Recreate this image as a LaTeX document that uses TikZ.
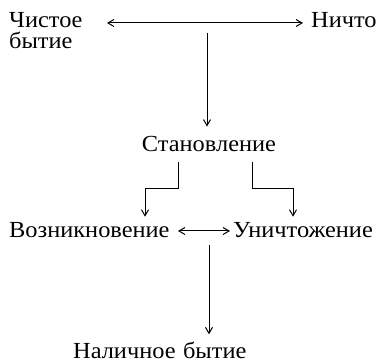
\documentclass[tikz,border=0pt]{standalone}
\usepackage{graphicx}
\usepackage{fontspec}
\setmainfont{Liberation Serif}
\usetikzlibrary{arrows.meta}
% slightly widened lettering
\newcommand{\widetext}[1]{\scalebox{1.06}[1]{#1}}
\tikzset{
  lbl/.style={inner sep=0pt, font=\fontsize{23}{21}\selectfont},
  tip/.style={Straight Barb[length=6pt,width=7pt]},
  link/.style={line width=1pt, -{Straight Barb[length=6pt,width=7pt]}},
  dlink/.style={line width=1pt, {Straight Barb[length=6pt,width=7pt]}-{Straight Barb[length=6pt,width=7pt]}},
}
\begin{document}
\begin{tikzpicture}[x=1pt,y=-1pt]
\useasboundingbox (0,0) rectangle (378,363);
% terms
\node[lbl, anchor=base west] (pure) at (9,28) {\widetext{Чистое}};
\node[lbl, anchor=base west] (pure2) at (9,49) {\widetext{бытие}};
\node[lbl, anchor=base west] (nothing) at (311,28) {\widetext{Ничто}};
\node[lbl, anchor=base] (becoming) at (209,152) {\widetext{Становление}};
\node[lbl, anchor=base west] (arising) at (9,238) {\widetext{Возникновение}};
\node[lbl, anchor=base west] (passing) at (233,238) {\widetext{Уничтожение}};
\node[lbl, anchor=base west] (dasein) at (73,359) {\widetext{Наличное\hspace{7pt}бытие}};
% helper points
\coordinate (tl) at (107,23);
\coordinate (tr) at (303,23);
\coordinate (tm) at (207,33);
\coordinate (bl1) at (178,162);
\coordinate (bl2) at (178,189);
\coordinate (bl3) at (145,189);
\coordinate (br1) at (252,162);
\coordinate (br2) at (252,189);
\coordinate (br3) at (293,189);
\coordinate (ml) at (178,231);
\coordinate (mr) at (230,231);
\coordinate (bt) at (209,245);
% connectors
\draw[dlink] (tl) -- (tr);
\draw[link, shorten >=10pt] (tm) -- (becoming.north -| tm);
\draw[link, shorten >=6pt] (bl1) -- (bl2) -- (bl3) -- (bl3 |- arising.north);
\draw[link, shorten >=6pt] (br1) -- (br2) -- (br3) -- (br3 |- passing.north);
\draw[dlink] (ml) -- (mr);
\draw[link, shorten >=8pt] (bt) -- (dasein.north -| bt);
\end{tikzpicture}
\end{document}
